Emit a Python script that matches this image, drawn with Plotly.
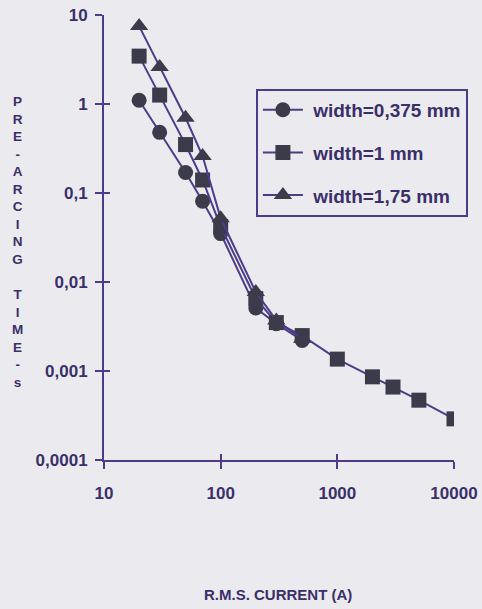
import plotly.graph_objects as go

current_a = [20, 30, 50, 70, 100, 200, 300, 500]
current_b = [20, 30, 50, 70, 100, 200, 300, 500, 1000, 2000, 3000, 5000, 10000]
current_c = [20, 30, 50, 70, 100, 200, 300, 500]

time_0375 = [1.1, 0.48, 0.17, 0.081, 0.035, 0.0051, 0.0034, 0.0022]
time_1 = [3.45, 1.26, 0.35, 0.14, 0.042, 0.0065, 0.0035, 0.0025, 0.00136, 0.00086, 0.00066, 0.00047, 0.00029]
time_175 = [7.5, 2.6, 0.70, 0.26, 0.052, 0.0077, 0.0037, 0.0023]

names = ["width=0,375 mm", "width=1 mm", "width=1,75 mm"]
x_ticks = [10, 100, 1000, 10000]
x_ticktext = ["10", "100", "1000", "10000"]
y_ticks = [0.0001, 0.001, 0.01, 0.1, 1, 10]
y_ticktext = ["0,0001", "0,001", "0,01", "0,1", "1", "10"]

line_c = "#4e3b8c"
mark_c = "#3c3b4a"
text_c = "#3a2f6a"
bg = "#ebebef"
FONT = "Liberation Sans, Arial, sans-serif"

fig = go.Figure()
series = [
    (current_a, time_0375, names[0], "circle"),
    (current_b, time_1, names[1], "square"),
    (current_c, time_175, names[2], "triangle-up"),
]
for i, (xs, ys, nm, sym) in enumerate(series):
    fig.add_trace(go.Scatter(
        x=xs, y=ys, name="\u00a0<b>" + nm + "</b>", mode="lines+markers",
        line=dict(color=line_c, width=2),
        marker=dict(symbol=sym, size=15 if sym != "triangle-up" else 16, color=mark_c,
                    line=dict(width=0)),
        legendgroup=f"g{i}",
    ))

# invisible trace on overlay axes for inward tick marks
fig.add_trace(go.Scatter(x=[10], y=[1], xaxis="x2", yaxis="y2", mode="markers",
                         marker=dict(opacity=0), showlegend=False, hoverinfo="skip"))

font_tick = dict(family=FONT, size=17, color=text_c)

fig.update_layout(
    width=482, height=609,
    paper_bgcolor=bg, plot_bgcolor=bg,
    margin=dict(l=104, r=28, t=15, b=149),
    showlegend=True,
    legend=dict(
        x=0.434, y=0.834, xanchor="left", yanchor="top",
        bgcolor=bg, bordercolor=line_c, borderwidth=2,
        font=dict(family=FONT, size=19, color=text_c),
        traceorder="grouped", tracegroupgap=15,
        itemwidth=40,
    ),
    xaxis=dict(
        type="log", range=[1, 4], tickvals=x_ticks,
        ticktext=["<b>" + t + "</b>" for t in x_ticktext], automargin=False,
        showgrid=False, zeroline=False, showline=True, linecolor=line_c, linewidth=2,
        ticks="outside", ticklen=7, tickwidth=2, tickcolor=line_c,
        tickfont=font_tick, ticklabelstandoff=10,
    ),
    yaxis=dict(
        type="log", range=[-4, 1], tickvals=y_ticks,
        ticktext=["<b>" + t + "</b>" for t in y_ticktext], automargin=False,
        showgrid=False, zeroline=False, showline=True, linecolor=line_c, linewidth=2,
        ticks="outside", ticklen=7, tickwidth=2, tickcolor=line_c,
        tickfont=font_tick, ticklabelstandoff=4,
    ),
    xaxis2=dict(
        type="log", range=[1, 4], tickvals=x_ticks, overlaying="x", showticklabels=False,
        showgrid=False, zeroline=False, showline=False, automargin=False,
        ticks="inside", ticklen=6, tickwidth=2, tickcolor=line_c,
    ),
    yaxis2=dict(
        type="log", range=[-4, 1], tickvals=y_ticks, overlaying="y", showticklabels=False,
        showgrid=False, zeroline=False, showline=False, automargin=False,
        ticks="inside", ticklen=6, tickwidth=2, tickcolor=line_c,
    ),
)

ytitle = "<br>".join(list("PRE-ARCING")) + "<br> <br>" + "<br>".join(list("TIME-s"))
fig.add_annotation(
    text="<b>" + ytitle + "</b>", xref="paper", yref="paper",
    x=-0.247, y=0.49, xanchor="center", yanchor="middle", showarrow=False,
    font=dict(family=FONT, size=13.5, color=text_c),
    align="center",
)
fig.add_annotation(
    text="<b>R.M.S. CURRENT (A)</b>", xref="paper", yref="paper",
    x=0.497, y=-0.303, xanchor="center", yanchor="middle", showarrow=False,
    font=dict(family=FONT, size=15, color=text_c),
)

fig.write_html("out.html", config={"displayModeBar": False},
               post_script="document.body.style.margin='0';document.body.style.background='%s';" % bg)
